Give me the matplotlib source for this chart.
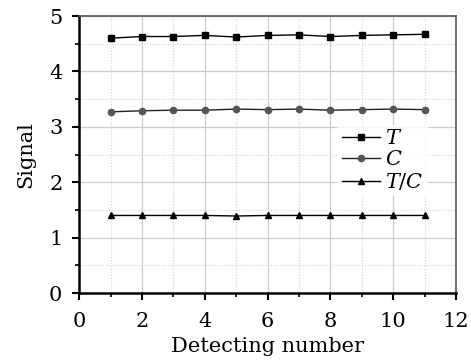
import matplotlib.pyplot as plt
from matplotlib.ticker import MultipleLocator

# data
detect_no = [1, 2, 3, 4, 5, 6, 7, 8, 9, 10, 11]
signal_T = [4.60, 4.63, 4.63, 4.65, 4.62, 4.65, 4.66, 4.63, 4.65, 4.66, 4.67]
signal_C = [3.27, 3.29, 3.30, 3.30, 3.32, 3.31, 3.32, 3.30, 3.31, 3.32, 3.31]
signal_TC = [1.40, 1.40, 1.40, 1.40, 1.39, 1.40, 1.40, 1.40, 1.40, 1.40, 1.40]

plt.rcParams['font.family'] = 'DejaVu Serif'
plt.rcParams['mathtext.fontset'] = 'dejavuserif'

fig = plt.figure(figsize=(4.71, 3.64), dpi=100)
ax = fig.add_axes([0.168, 0.195, 0.800, 0.761])

ax.plot(detect_no, signal_T, '-s', color='black', lw=1, ms=4.5, label='$T$')
ax.plot(detect_no, signal_C, '-', color='#222222', lw=1, label='$C$',
        marker='o', ms=4.5, mfc='#555555', mec='#555555')
ax.plot(detect_no, signal_TC, '-^', color='black', lw=1, ms=4.5, label='$T/C$')

ax.set_xlim(0, 12)
ax.set_ylim(0, 5)
ax.xaxis.set_major_locator(MultipleLocator(2))
ax.xaxis.set_minor_locator(MultipleLocator(1))
ax.yaxis.set_major_locator(MultipleLocator(1))
ax.yaxis.set_minor_locator(MultipleLocator(0.5))

ax.grid(which='major', color='#cccccc', lw=0.9)
ax.grid(which='minor', color='#d0d0d0', lw=0.8, ls=':')
ax.set_axisbelow(True)

for s in ['left', 'bottom']:
    ax.spines[s].set_linewidth(1.8)
for s in ['top', 'right']:
    ax.spines[s].set_linewidth(1.2)
    ax.spines[s].set_color('#555555')

ax.tick_params(which='major', direction='out', length=5, width=1.5, labelsize=15)
ax.tick_params(axis='y', which='major', pad=7)
ax.tick_params(axis='x', which='major', pad=9)
ax.tick_params(which='minor', direction='out', length=3, width=1.2)

ax.set_xlabel('Detecting number', fontsize=15, labelpad=4)
ax.set_ylabel('Signal', fontsize=15, labelpad=10)

leg = ax.legend(loc='upper left', bbox_to_anchor=(0.66, 0.645), frameon=True,
                fontsize=15, handlelength=1.8, handletextpad=0.25,
                labelspacing=0.1, borderpad=0.2, fancybox=False)
leg.get_frame().set_edgecolor('none')
leg.get_frame().set_facecolor('white')

fig.savefig('out.png', dpi=100)
